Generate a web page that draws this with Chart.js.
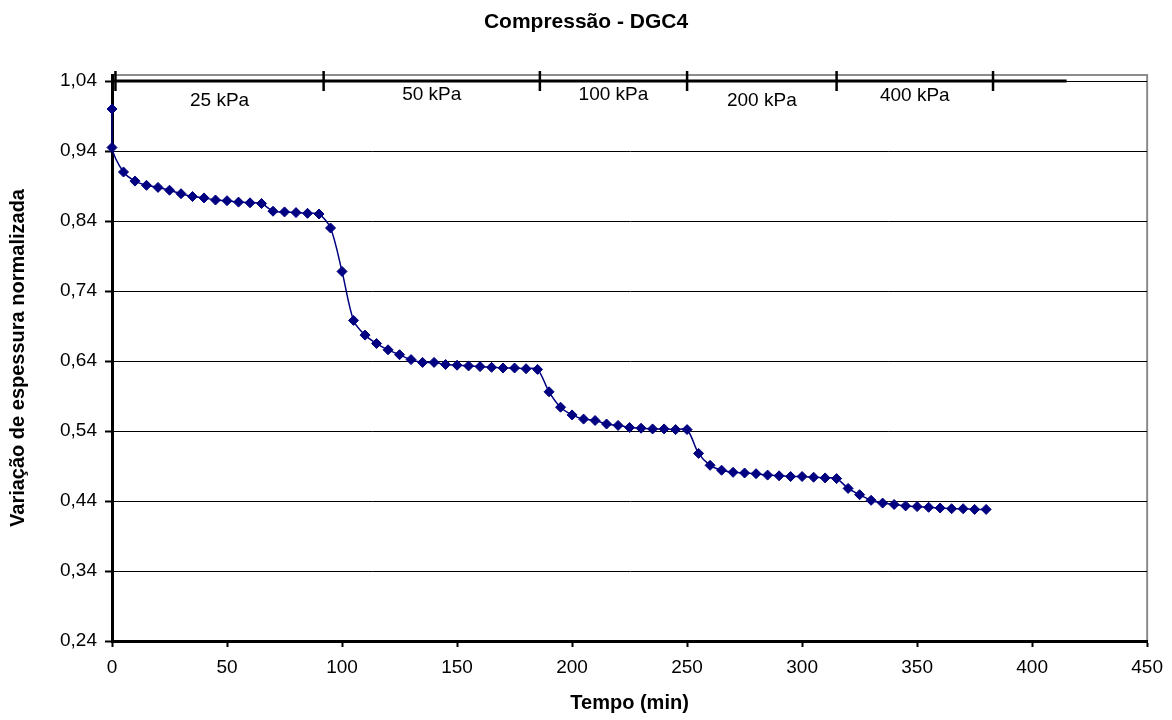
<!DOCTYPE html>
<html>
<head>
<meta charset="utf-8">
<title>Compressão - DGC4</title>
<script src="https://cdn.jsdelivr.net/npm/chart.js@4.4.0/dist/chart.umd.min.js"></script>
<style>
html, body { margin: 0; padding: 0; background: #fff; }
#wrap { width: 1172px; height: 720px; }
</style>
</head>
<body>
<div id="wrap"><canvas id="chart" width="1172" height="720"></canvas></div>
<script>
// tempo (min) e variação de espessura normalizada
const tempo = [0, 0, 5, 10, 15, 20, 25, 30, 35, 40, 45, 50, 55, 60, 65, 70, 75, 80, 85, 90,
    95, 100, 105, 110, 115, 120, 125, 130, 135, 140, 145, 150, 155, 160, 165, 170, 175, 180, 185,
    190, 195, 200, 205, 210, 215, 220, 225, 230, 235, 240, 245, 250,
    255, 260, 265, 270, 275, 280, 285, 290, 295, 300, 305, 310, 315,
    320, 325, 330, 335, 340, 345, 350, 355, 360, 365, 370, 375, 380];
const espessura = [1.000, 0.945, 0.910, 0.897, 0.891, 0.888, 0.884, 0.879, 0.875, 0.873, 0.870, 0.869, 0.867, 0.866, 0.865, 0.854, 0.853, 0.852, 0.851, 0.850,
    0.830, 0.768, 0.698, 0.677, 0.665, 0.656, 0.649, 0.642, 0.638, 0.638, 0.635, 0.634, 0.633, 0.632, 0.631, 0.630, 0.630, 0.629, 0.628,
    0.596, 0.574, 0.563, 0.557, 0.555, 0.550, 0.548, 0.545, 0.544, 0.543, 0.543, 0.542, 0.542,
    0.508, 0.491, 0.484, 0.481, 0.480, 0.479, 0.477, 0.476, 0.475, 0.475, 0.474, 0.473, 0.472,
    0.458, 0.449, 0.441, 0.437, 0.435, 0.433, 0.432, 0.431, 0.430, 0.429, 0.429, 0.428, 0.428];

// estágios de carga (barra no topo)
const estagios = ['25 kPa', '50 kPa', '100 kPa', '200 kPa', '400 kPa'];
const inicioEstagio = [1.5, 92, 186, 250, 315, 383];
const barraInicio = 0;
const barraFim = 415;
const nivelBarra = 1.04;

const yTicks = [0.24, 0.34, 0.44, 0.54, 0.64, 0.74, 0.84, 0.94, 1.04];
const xMin = 0, xMax = 450, xStep = 50;

const fonte = '"Liberation Sans", Arial, Helvetica, sans-serif';
Chart.defaults.font.family = fonte;
Chart.defaults.color = '#000';

const pontos = tempo.map((t, i) => ({ x: t, y: espessura[i] }));

const areaPlot = {
    id: 'areaPlot',
    beforeDraw(chart) {
        const { ctx, chartArea: a } = chart;
        ctx.save();
        ctx.fillStyle = '#fff';
        ctx.fillRect(0, 0, chart.width, chart.height);
        ctx.strokeStyle = '#8c8c8c';
        ctx.lineWidth = 2;
        ctx.beginPath();
        ctx.moveTo(a.left, a.top);
        ctx.lineTo(a.right, a.top);
        ctx.lineTo(a.right, a.bottom);
        ctx.stroke();
        ctx.restore();
    }
};

const rotulosEstagio = {
    id: 'rotulosEstagio',
    afterDatasetsDraw(chart, args, opts) {
        const { ctx, scales: { x, y } } = chart;
        ctx.save();
        ctx.font = opts.size + 'px ' + fonte;
        ctx.fillStyle = '#000';
        ctx.textAlign = 'center';
        ctx.textBaseline = 'middle';
        estagios.forEach((txt, i) => {
            const meio = (inicioEstagio[i] + inicioEstagio[i + 1]) / 2;
            const px = x.getPixelForValue(meio);
            const py = y.getPixelForValue(nivelBarra) + opts.offsets[i];
            ctx.fillText(txt, px, py);
        });
        ctx.restore();
    }
};

new Chart(document.getElementById('chart'), {
    type: 'scatter',
    data: {
        datasets: [{
            label: 'DGC4',
            data: pontos,
            showLine: true,
            borderColor: '#000080',
            backgroundColor: '#000080',
            borderWidth: 1.5,
            tension: 0.3,
            pointStyle: 'rectRot',
            pointRadius: 5,
            pointBorderWidth: 1,
            pointBorderColor: '#000080',
            pointBackgroundColor: '#000080',
            clip: false
        }, {
            label: 'barra',
            data: [{ x: barraInicio, y: nivelBarra }, { x: barraFim, y: nivelBarra }],
            showLine: true,
            borderColor: '#000',
            borderWidth: 3,
            pointRadius: 0,
            clip: false
        }, {
            label: 'marcas',
            data: inicioEstagio.map(v => ({ x: v, y: nivelBarra })),
            showLine: false,
            pointStyle: 'line',
            pointRotation: 90,
            pointRadius: 10,
            pointBorderColor: '#000',
            pointBorderWidth: 2.5,
            clip: false
        }]
    },
    options: {
        responsive: false,
        animation: false,
        devicePixelRatio: 1,
        layout: { padding: 0 },
        scales: {
            x: {
                type: 'linear',
                min: xMin,
                max: xMax,
                afterFit: s => { s.height = 79; },
                ticks: { stepSize: xStep, font: { size: 19 }, padding: 9, color: '#000' },
                grid: { drawOnChartArea: false, tickLength: 6, tickColor: '#000', tickWidth: 2 },
                border: { color: '#000', width: 3 },
                title: {
                    display: true,
                    text: 'Tempo (min)',
                    font: { size: 20, weight: 'bold' },
                    color: '#000',
                    padding: { top: 0, bottom: 5 }
                }
            },
            y: {
                min: 0.24,
                max: 1.0486,
                afterBuildTicks: s => { s.ticks = yTicks.map(v => ({ value: v })); },
                afterFit: s => { s.width = 112; },
                ticks: {
                    font: { size: 19 },
                    padding: 8,
                    color: '#000',
                    callback: v => v.toFixed(2).replace('.', ',')
                },
                grid: { color: '#000', lineWidth: 1, tickLength: 7, tickColor: '#000', tickWidth: 2 },
                border: { color: '#000', width: 3 },
                title: {
                    display: true,
                    text: 'Variação de espessura normalizada',
                    font: { size: 20, weight: 'bold' },
                    color: '#000',
                    padding: { top: 6, bottom: 0 }
                }
            },
            // margem direita vazia, para que o título fique centrado na largura total
            margem: {
                type: 'linear',
                axis: 'y',
                position: 'right',
                afterFit: s => { s.width = 24; },
                ticks: { display: false },
                grid: { display: false },
                border: { display: false }
            }
        },
        plugins: {
            legend: { display: false },
            tooltip: { enabled: false },
            title: {
                display: true,
                text: 'Compressão - DGC4',
                font: { size: 21, weight: 'bold' },
                color: '#000',
                padding: { top: 10, bottom: 39.8 }
            },
            rotulosEstagio: { size: 19, offsets: [20, 14, 14, 20, 15] }
        }
    },
    plugins: [areaPlot, rotulosEstagio]
});
</script>
</body>
</html>
